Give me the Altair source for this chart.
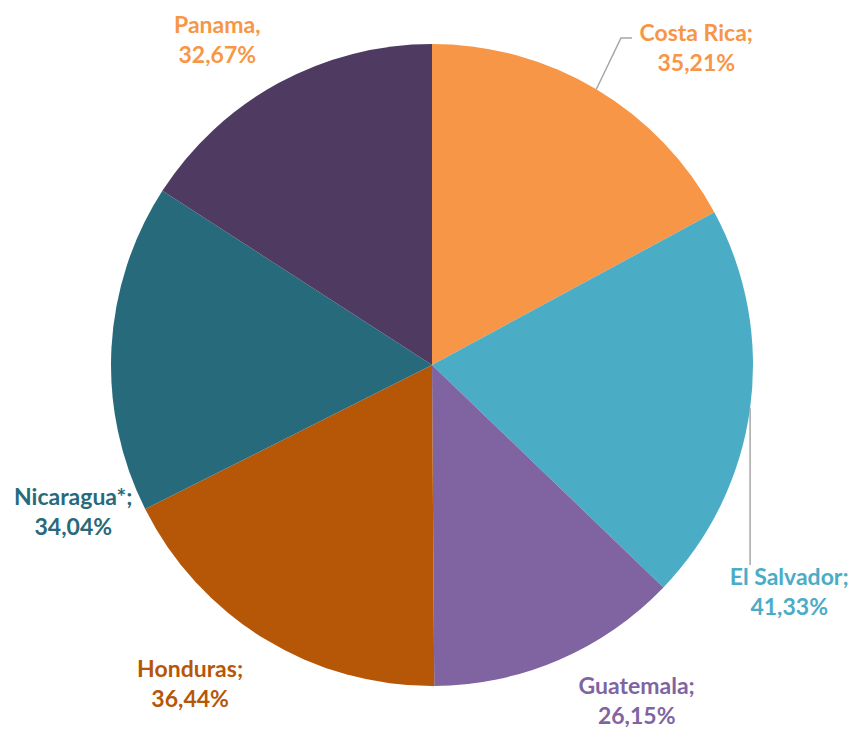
import math
import altair as alt
import pandas as pd

# ---- data ----
countries = ["Costa Rica", "El Salvador", "Guatemala", "Honduras", "Nicaragua*", "Panama"]
values = [35.21, 41.33, 26.15, 36.44, 34.04, 32.67]
separators = [";", ";", ";", ";", ";", ","]
slice_colors = ["#F79646", "#4BACC6", "#8064A2", "#B65708", "#276A7C", "#4F3B62"]
label_colors = ["#F79646", "#4BACC6", "#8064A2", "#B65708", "#276A7C", "#F79646"]

# ---- layout (label placement, polar, relative to pie centre) ----
label_angle_deg = [39.9, 122.6, 148.7, 217.1, 247.6, 326.5]
label_radius = [412, 424, 394, 401, 388, 389]

W, H = 842, 720
CX, CY, R = 424, 357, 321
LINE_H = 30

total = sum(values)
rows = []
cum = 0.0
for i, (c, v) in enumerate(zip(countries, values)):
    mid = (cum + v / 2) / total * 2 * math.pi
    cum += v
    rows.append({
        "country": c, "value": v, "order": i,
        "label": f"{c}{separators[i]}\n{v:.2f}%".replace(".", ","),
        "tcolor": label_colors[i],
        "ltheta": math.radians(label_angle_deg[i]),
        "lrad": label_radius[i],
        "mid": mid,
    })
df = pd.DataFrame(rows)

# leader lines for Costa Rica and El Salvador: start at slice mid on the rim
def rim(mid):
    return CX + R * math.sin(mid), CY - R * math.cos(mid)

lines = []
x0, y0 = rim(df.loc[0, "mid"])
lines += [{"g": "cr", "i": 0, "x": x0, "y": y0},
          {"g": "cr", "i": 1, "x": 613, "y": 30},
          {"g": "cr", "i": 2, "x": 624, "y": 30}]
x1, y1 = rim(df.loc[1, "mid"])
lines += [{"g": "es", "i": 0, "x": x1, "y": y1},
          {"g": "es", "i": 1, "x": x1, "y": 557}]
ldf = pd.DataFrame(lines)

base = alt.Chart(df)

pie = base.mark_arc(radius=R, stroke=None).encode(
    theta=alt.Theta("value:Q", stack=True),
    color=alt.Color("country:N", scale=alt.Scale(domain=countries, range=slice_colors), legend=None),
    order=alt.Order("order:Q"),
    x=alt.value(CX), y=alt.value(CY),
)

text = base.mark_text(font="Lato", fontSize=23, fontWeight="bold", lineBreak="\n",
                      lineHeight=LINE_H, align="center", baseline="middle",
                      dy=-LINE_H / 2).encode(
    theta=alt.Theta("ltheta:Q", scale=None),
    radius=alt.Radius("lrad:Q", scale=None),
    text="label:N",
    color=alt.Color("tcolor:N", scale=None),
    x=alt.value(CX), y=alt.value(CY),
)

leaders = alt.Chart(ldf).mark_line(color="#A6A6A6", strokeWidth=1.5).encode(
    x=alt.X("x:Q", scale=None, axis=None),
    y=alt.Y("y:Q", scale=None, axis=None),
    detail="g:N",
    order="i:Q",
)

chart = alt.layer(pie, leaders, text).properties(
    width=W, height=H, padding=0,
    autosize=alt.AutoSizeParams(type="none"),
).configure_view(stroke=None)

chart.save("out.html", embed_options={"renderer": "svg", "actions": False})
